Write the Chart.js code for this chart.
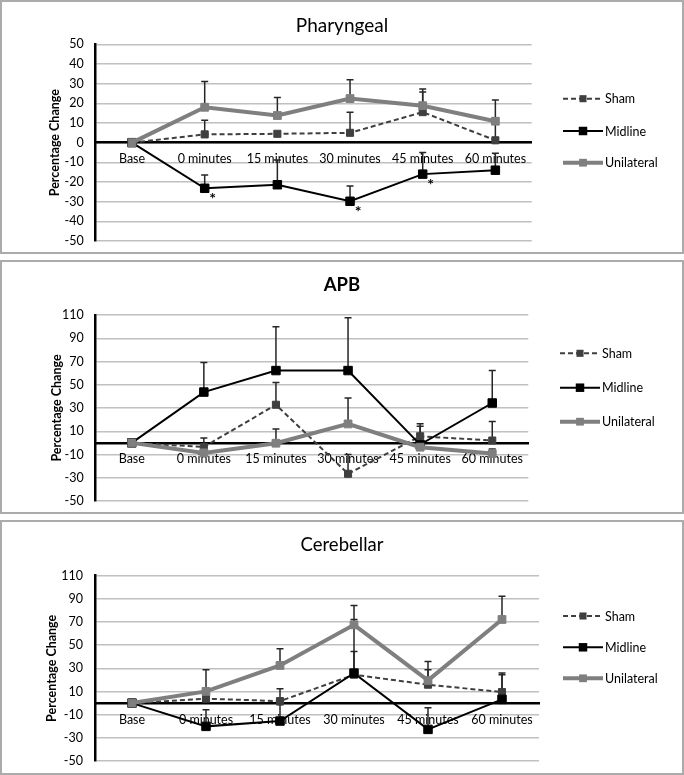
<!DOCTYPE html>
<html><head><meta charset="utf-8">
<script src="https://cdn.jsdelivr.net/npm/chart.js@4.4.1/dist/chart.umd.min.js"></script>
<style>
html,body{margin:0;padding:0;background:#fff;}
body{width:684px;height:775px;position:relative;overflow:hidden;}
.panel{position:absolute;left:0;width:684px;box-sizing:border-box;border:2px solid #ababab;background:#fff;}
.panel canvas{position:absolute;left:0;top:0;}
</style></head><body>
<div class="panel" style="top:0;height:254px"><canvas id="c1" width="680" height="250" style="width:680px;height:250px"></canvas></div>
<div class="panel" style="top:260px;height:254px"><canvas id="c2" width="680" height="250" style="width:680px;height:250px"></canvas></div>
<div class="panel" style="top:520px;height:255px"><canvas id="c3" width="680" height="251" style="width:680px;height:251px"></canvas></div>
<script>
// ---- data ----
const categories = ['Base', '0 minutes', '15 minutes', '30 minutes', '45 minutes', '60 minutes'];
const seriesNames = ['Sham', 'Midline', 'Unilateral'];

const pharTicks = {min: -50, max: 50, step: 10};
const pharSham = [0, 4.2, 4.5, 5.0, 15.5, 1.2];
const pharShamErr = [0, 7.2, 0, 10.5, 10.2, 9.0];
const pharMidline = [0, -23.2, -21.4, -29.8, -16.0, -14.0];
const pharMidlineErr = [0, 6.7, 12.6, 7.7, 11.0, 8.6];
const pharUnilateral = [0, 18.0, 13.8, 22.4, 18.8, 10.9];
const pharUnilateralErr = [0, 13.1, 9.2, 9.6, 8.5, 10.8];
const pharMidlineSig = [false, true, false, true, true, false];

const apbTicks = {min: -50, max: 110, step: 20};
const apbSham = [0, -3.5, 32.8, -26.6, 5.7, 2.0];
const apbShamErr = [0, 7.8, 19.2, 16.6, 10.8, 16.3];
const apbMidline = [0, 43.7, 62.2, 62.2, -1.5, 34.3];
const apbMidlineErr = [0, 25.4, 37.8, 45.5, 15.8, 27.9];
const apbUnilateral = [0, -8.6, -0.3, 16.3, -3.7, -9.2];
const apbUnilateralErr = [0, 4.0, 12.3, 22.3, 4.0, 4.0];

const cereTicks = {min: -50, max: 110, step: 20};
const cereSham = [0, 3.8, 1.7, 24.5, 15.9, 9.5];
const cereShamErr = [0, 3.0, 10.7, 20.1, 12.9, 16.4];
const cereMidline = [0, -20.1, -15.5, 25.9, -22.7, 3.2];
const cereMidlineErr = [0, 14.4, 14.0, 46.3, 18.7, 21.3];
const cereUnilateral = [0, 10.1, 32.5, 67.6, 19.6, 72.2];
const cereUnilateralErr = [0, 18.7, 14.4, 16.6, 16.3, 20.0];

// ---- styles ----
const FONT = 'Lato';
const TXT = '#000000';
const styles = [
  {color: '#3f3f3f', width: 2, dash: [5, 3], radius: 5, order: 2},
  {color: '#000000', width: 2, dash: [], radius: 6, order: 1},
  {color: '#7f7f7f', width: 4, dash: [], radius: 5.5, order: 0}
];

function makeChart(id, cfg) {
  const canvas = document.getElementById(id);
  const W = canvas.width, H = canvas.height;
  const datasets = cfg.series.map((vals, k) => ({
    label: seriesNames[k],
    data: vals,
    errPlus: cfg.errs[k],
    borderColor: styles[k].color,
    backgroundColor: styles[k].color,
    borderWidth: styles[k].width,
    borderDash: styles[k].dash,
    pointStyle: 'rect',
    pointRadius: styles[k].radius,
    pointHoverRadius: styles[k].radius,
    pointBackgroundColor: styles[k].color,
    pointBorderColor: styles[k].color,
    pointBorderWidth: 1,
    tension: 0,
    fill: false,
    order: styles[k].order
  }));

  const extras = {
    id: 'extras_' + id,
    beforeDatasetsDraw(chart) {
      const ctx = chart.ctx, ys = chart.scales.y;
      ctx.save();
      ctx.strokeStyle = '#262626';
      ctx.lineWidth = 1.5;
      chart.data.datasets.forEach((ds, di) => {
        const meta = chart.getDatasetMeta(di);
        ds.data.forEach((v, i) => {
          const e = ds.errPlus[i];
          if (!e) return;
          const x = meta.data[i].x;
          const y0 = ys.getPixelForValue(v), y1 = ys.getPixelForValue(v + e);
          ctx.beginPath();
          ctx.moveTo(x, y0); ctx.lineTo(x, y1);
          ctx.moveTo(x - 3.5, y1); ctx.lineTo(x + 3.5, y1);
          ctx.stroke();
        });
      });
      ctx.restore();
    },
    afterDatasetsDraw(chart) {
      const ctx = chart.ctx;
      if (cfg.sig) {
        const meta = chart.getDatasetMeta(cfg.sigSeries);
        ctx.save();
        ctx.fillStyle = '#000';
        ctx.font = 'bold 16px ' + FONT;
        ctx.textAlign = 'center';
        ctx.textBaseline = 'middle';
        cfg.sig.forEach((s, i) => {
          if (!s) return;
          const p = meta.data[i];
          ctx.fillText('*', p.x + 8, p.y + 11);
        });
        ctx.restore();
      }
      // title
      ctx.save();
      ctx.fillStyle = TXT;
      ctx.font = (cfg.titleBold ? 'bold ' : '') + cfg.titleSize + 'px ' + FONT;
      ctx.textAlign = 'center';
      ctx.textBaseline = 'middle';
      ctx.fillText(cfg.title, 340, cfg.titleY);
      // legend
      ctx.font = '12.5px ' + FONT;
      ctx.textAlign = 'left';
      seriesNames.forEach((name, k) => {
        const st = styles[k];
        const y = cfg.legendY[k];
        const x0 = cfg.legendX, x1 = cfg.legendX + 40;
        ctx.strokeStyle = st.color;
        ctx.lineWidth = st.width;
        ctx.setLineDash(st.dash);
        ctx.beginPath(); ctx.moveTo(x0, y); ctx.lineTo(x1, y); ctx.stroke();
        ctx.setLineDash([]);
        const s = st.radius * Math.SQRT1_2;
        ctx.fillStyle = st.color;
        ctx.fillRect((x0 + x1) / 2 - s, y - s, 2 * s, 2 * s);
        ctx.fillStyle = TXT;
        ctx.fillText(name, x1 + 2, y + 0.5);
      });
      ctx.restore();
    }
  };

  const yW = 60;
  return new Chart(canvas, {
    type: 'line',
    data: {labels: categories, datasets},
    options: {
      responsive: false,
      animation: false,
      devicePixelRatio: 1,
      layout: {padding: {left: cfg.area.l - yW, right: W - cfg.area.r, top: cfg.area.t, bottom: H - cfg.area.b}},
      plugins: {legend: {display: false}, title: {display: false}, tooltip: {enabled: false}},
      scales: {
        x: {
          type: 'category', offset: true, position: {y: 0},
          grid: {display: false, drawTicks: false},
          border: {display: true, color: '#000', width: 2.5},
          ticks: {autoSkip: false, maxRotation: 0, minRotation: 0, padding: 9, color: TXT, font: {family: FONT, size: 12.5}},
          afterFit(s) { s.height = 0; }
        },
        y: {
          min: cfg.ticks.min, max: cfg.ticks.max,
          ticks: {stepSize: cfg.ticks.step, padding: 3, color: TXT, font: {family: FONT, size: 12.5}},
          grid: {color: '#c0c0c0', lineWidth: 1.5, drawTicks: true, tickLength: 9, tickColor: 'rgba(0,0,0,0)'},
          border: {display: true, color: '#000', width: 2.5},
          title: {display: true, text: 'Percentage Change', color: TXT, font: {family: FONT, size: 12.5, weight: 'bold'}, padding: {top: cfg.yTitleX - (cfg.area.l - yW) - 7.5, bottom: 0}},
          afterFit(s) { s.width = yW; }
        }
      }
    },
    plugins: [extras]
  });
}

makeChart('c1', {
  series: [pharSham, pharMidline, pharUnilateral],
  errs: [pharShamErr, pharMidlineErr, pharUnilateralErr],
  ticks: pharTicks,
  area: {l: 93.7, r: 529.7, t: 42.3, b: 239},
  title: 'Pharyngeal', titleBold: false, titleSize: 19, titleY: 24,
  yTitleX: 52.6,
  legendX: 561, legendY: [96.7, 129, 160.7],
  sig: pharMidlineSig, sigSeries: 1
});
makeChart('c2', {
  series: [apbSham, apbMidline, apbUnilateral],
  errs: [apbShamErr, apbMidlineErr, apbUnilateralErr],
  ticks: apbTicks,
  area: {l: 93.7, r: 526.3, t: 53, b: 239},
  title: 'APB', titleBold: true, titleSize: 18.5, titleY: 22.7,
  yTitleX: 54.8,
  legendX: 558, legendY: [91.3, 125.7, 159.7]
});
makeChart('c3', {
  series: [cereSham, cereMidline, cereUnilateral],
  errs: [cereShamErr, cereMidlineErr, cereUnilateralErr],
  ticks: cereTicks,
  area: {l: 93, r: 537, t: 53.7, b: 239},
  title: 'Cerebellar', titleBold: false, titleSize: 18.5, titleY: 22.7,
  yTitleX: 49.5,
  legendX: 561, legendY: [94, 125.3, 156.3]
});
</script>
</body></html>
